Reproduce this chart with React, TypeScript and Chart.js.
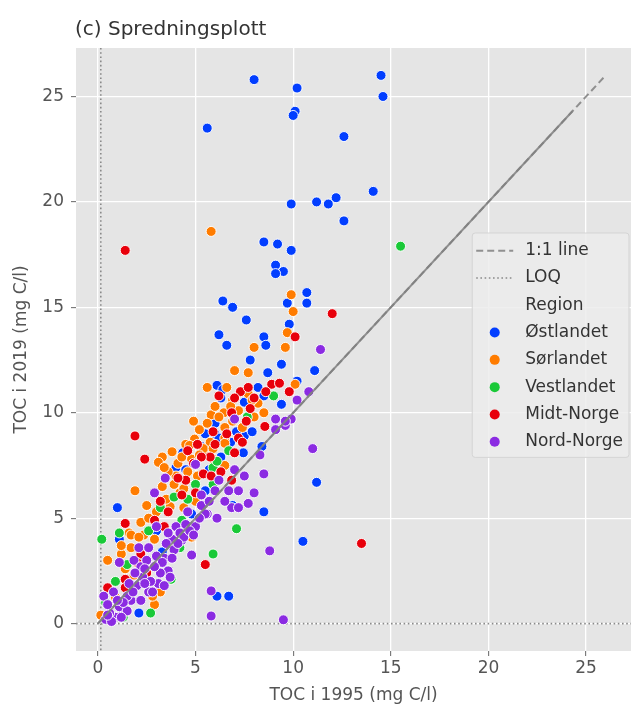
import React, { useEffect, useRef } from 'react';
import { Chart, registerables } from 'chart.js';

Chart.register(...registerables);

const FONT = "'DejaVu Sans', sans-serif";

const chartTitle = '(c) Spredningsplott';
const xAxisTitle = 'TOC i 1995 (mg C/l)';
const yAxisTitle = 'TOC i 2019 (mg C/l)';
const legendHeader = 'Region';
const lineLabel = '1:1 line';
const loqLabel = 'LOQ';

const regionNames = ['Østlandet', 'Sørlandet', 'Vestlandet', 'Midt-Norge', 'Nord-Norge'];
const regionColors = ['#023eff', '#ff7c00', '#1ac938', '#e8000b', '#8b2be2'];

const xTicks = [0, 5, 10, 15, 20, 25];
const yTicks = [0, 5, 10, 15, 20, 25];
const xRange = [-1.12, 27.3];
const yRange = [-1.3, 27.3];

const oneToOneEnds = [0, 26];
const oneToOneSolidEnd = 24.3;
const loqX = 0.15;
const loqY = 0.0;

// [TOC 1995, TOC 2019]
const ostlandet = [
  [8.0, 25.8], [10.2, 25.4], [14.5, 26.0], [14.6, 25.0], [10.1, 24.3], [10.0, 24.1], [5.6, 23.5], [12.6, 23.1],
  [14.1, 20.5], [9.9, 19.9], [11.2, 20.0], [11.8, 19.9], [12.2, 20.2], [12.6, 19.1],
  [8.5, 18.1], [9.2, 18.0], [9.9, 17.7], [9.1, 17.0], [9.5, 16.7], [9.1, 16.6],
  [10.7, 15.7], [9.7, 15.2], [10.7, 15.2], [6.4, 15.3], [6.9, 15.0], [7.6, 14.4], [9.8, 14.2],
  [6.2, 13.7], [6.6, 13.2], [8.5, 13.6], [8.6, 13.2], [9.4, 12.3], [11.1, 12.0], [8.7, 11.9], [10.2, 11.5],
  [6.1, 11.3], [6.4, 11.1], [6.3, 10.7], [7.5, 10.5], [8.5, 10.8], [9.4, 10.4],
  [6.0, 9.5], [6.0, 9.0], [6.2, 8.8], [7.5, 8.9], [6.8, 8.6], [8.4, 8.4], [4.35, 8.1], [6.3, 7.9], [7.45, 8.1], [4.0, 7.4],
  [5.5, 6.3], [11.2, 6.7], [8.5, 5.3], [6.9, 5.6], [10.5, 3.9], [6.1, 1.3], [6.7, 1.3],
  [1.0, 5.5], [1.1, 4.0], [2.1, 0.5], [3.3, 3.4], [3.0, 4.4], [4.8, 5.2], [5.3, 8.4], [7.9, 9.1],
  [5.5, 9.0], [6.9, 9.9], [4.9, 8.6], [7.1, 9.1], [5.7, 7.3], [8.2, 11.2], [7.8, 12.5], [4.5, 7.3],
];
const sorlandet = [
  [5.8, 18.6], [9.9, 15.6], [10.0, 14.8], [9.7, 13.8], [8.0, 13.1], [9.6, 13.1], [7.7, 11.9], [10.1, 11.35],
  [5.6, 11.2], [7.7, 10.9], [6.9, 10.6], [8.2, 10.45], [6.45, 10.0], [7.2, 10.1], [8.0, 9.8], [8.5, 10.0],
  [5.2, 9.2], [6.5, 9.3], [7.4, 9.3], [6.5, 8.8], [6.5, 8.55], [5.75, 8.6], [4.95, 8.75], [4.5, 8.5], [4.7, 8.45],
  [3.3, 7.9], [3.1, 7.65], [3.8, 8.15], [5.4, 8.15], [4.1, 7.6], [5.4, 8.3], [6.5, 7.5], [4.0, 7.0], [4.6, 7.2],
  [1.9, 6.3], [3.7, 5.55], [2.2, 4.8], [1.6, 4.3], [2.35, 4.2], [2.9, 4.0], [1.7, 4.2], [1.7, 3.6], [1.2, 3.3],
  [1.2, 3.7], [0.5, 3.0], [0.9, 1.25], [2.9, 0.9], [3.2, 1.5], [0.15, 0.4], [4.8, 4.1], [1.85, 2.3], [3.0, 5.3],
  [3.5, 5.9], [4.2, 6.2], [5.1, 7.0], [5.9, 7.8], [6.9, 9.6], [4.4, 5.5], [2.6, 5.0], [3.3, 6.5], [2.8, 1.3],
  [4.9, 9.6], [5.8, 9.9], [7.0, 12.0], [6.0, 10.3], [3.6, 7.2], [5.0, 5.8],
  [4.3, 7.9], [4.8, 7.8], [5.2, 8.0], [3.9, 6.6], [4.4, 6.4], [5.6, 9.5], [6.2, 9.8], [6.8, 10.3], [7.9, 10.6],
  [5.9, 8.3], [3.4, 7.4], [2.5, 5.6], [2.1, 4.1], [1.4, 2.6], [6.6, 11.2],
];
const vestlandet = [
  [15.5, 17.9], [9.0, 10.8], [7.65, 9.8], [5.9, 7.4], [5.9, 6.6], [7.1, 4.5], [5.9, 3.3], [4.2, 3.6], [3.75, 2.1],
  [0.2, 4.0], [1.1, 4.3], [2.6, 4.4], [3.2, 5.5], [5.0, 6.6], [0.4, 1.0], [2.7, 0.5], [6.1, 7.7], [1.5, 2.8],
  [4.3, 4.9], [3.9, 6.0], [1.3, 0.3], [0.9, 2.0], [4.6, 5.9], [6.7, 8.2], [2.3, 3.0],
];
const midtNorge = [
  [1.4, 17.7], [12.0, 14.7], [10.1, 13.6], [8.9, 11.35], [9.3, 11.4], [9.8, 11.0], [7.3, 11.0], [7.0, 10.7],
  [6.85, 10.0], [8.55, 9.35], [7.2, 8.8], [7.4, 8.6], [1.9, 8.9], [2.4, 7.8], [5.75, 7.9], [5.4, 7.1], [5.8, 7.0],
  [6.3, 7.2], [4.5, 6.8], [6.85, 6.8], [4.3, 6.1], [1.4, 4.75], [2.9, 4.9], [1.4, 2.1], [0.5, 1.7], [1.4, 1.7],
  [5.5, 2.8], [13.5, 3.8], [7.0, 8.1], [4.6, 8.2], [3.6, 5.3], [5.0, 6.2], [2.2, 3.3], [6.0, 8.5], [8.0, 10.7],
  [7.8, 10.2], [4.9, 7.6], [3.4, 4.6], [2.5, 2.4], [8.6, 11.0],
  [5.1, 8.5], [5.9, 9.1], [6.6, 9.0], [7.6, 9.6], [4.1, 6.9], [3.2, 5.8], [5.3, 7.9], [6.2, 10.8], [7.7, 11.2], [2.0, 2.9],
];
const nordNorge = [
  [11.4, 13.0], [10.8, 11.0], [10.2, 10.6], [7.0, 9.7], [9.1, 9.7], [9.6, 9.4], [9.9, 9.7], [9.1, 9.2], [9.6, 9.6],
  [11.0, 8.3], [8.5, 7.1], [7.0, 7.3], [5.0, 7.55], [3.45, 6.9], [2.9, 6.2], [8.0, 6.2], [7.2, 6.3], [6.7, 6.3],
  [7.7, 5.7], [6.85, 5.5], [7.2, 5.5], [6.1, 5.0], [5.6, 5.2], [5.5, 5.2], [8.8, 3.45], [4.8, 3.25], [4.3, 3.95],
  [5.8, 1.55], [5.8, 0.36], [9.5, 0.18], [2.1, 3.6], [2.6, 3.6], [1.1, 2.9], [1.85, 3.0], [2.2, 2.7], [3.4, 3.1],
  [3.6, 2.5], [3.7, 2.2], [3.2, 2.4], [3.1, 1.9], [3.4, 1.8], [0.3, 1.3], [1.2, 0.7], [1.7, 1.1], [2.2, 1.1],
  [2.6, 1.5], [2.8, 1.5], [1.5, 1.3], [1.1, 0.8], [1.5, 0.6], [0.9, 0.3], [1.2, 0.3], [2.3, 2.2], [4.0, 4.6],
  [4.5, 4.7], [4.2, 4.3], [3.8, 4.0], [3.5, 3.8], [4.6, 5.3], [5.3, 5.6], [5.0, 4.6], [3.0, 3.2], [2.7, 2.0],
  [2.0, 1.8], [1.6, 1.9], [0.6, 0.5], [0.5, 0.9], [0.8, 1.5], [1.9, 2.4], [2.5, 3.0], [3.9, 3.5], [4.4, 4.1],
  [4.7, 4.4], [5.3, 6.1], [6.2, 6.8], [5.7, 5.8], [3.0, 4.6], [2.4, 2.6], [1.3, 1.0], [0.4, 0.2], [0.7, 0.1],
  [1.8, 1.5], [2.4, 1.9], [3.3, 2.9], [3.8, 3.1], [4.1, 3.8], [4.9, 4.2], [5.2, 5.0], [3.6, 4.3], [2.9, 2.7],
  [1.0, 1.1], [0.5, 0.4], [6.0, 6.3], [6.5, 5.8], [7.5, 7.0], [8.3, 8.0],
];

const regionData = [ostlandet, sorlandet, vestlandet, midtNorge, nordNorge];

const LINE_COLOR = 'rgba(128,128,128,0.85)';
const LOQ_COLOR = '#8a8a8a';
const LEGEND_FONT = 17;
const TICK_FONT = 17;

const bgPlugin = {
  id: 'bgPlugin',
  beforeDraw(chart: any) {
    const { ctx, chartArea: a } = chart;
    ctx.save();
    ctx.fillStyle = '#e5e5e5';
    ctx.fillRect(a.left, a.top, a.right - a.left, a.bottom - a.top);
    ctx.restore();
  },
  beforeDatasetsDraw(chart: any) {
    const { ctx, chartArea: a, scales } = chart;
    const px = scales.x.getPixelForValue(loqX);
    const py = scales.y.getPixelForValue(loqY);
    ctx.save();
    ctx.beginPath();
    ctx.rect(a.left, a.top, a.right - a.left, a.bottom - a.top);
    ctx.clip();
    ctx.strokeStyle = LOQ_COLOR;
    ctx.lineWidth = 1.6;
    ctx.setLineDash([1.6, 2.6]);
    ctx.beginPath();
    ctx.moveTo(px, a.top);
    ctx.lineTo(px, a.bottom);
    ctx.moveTo(a.left, py);
    ctx.lineTo(a.right, py);
    ctx.stroke();
    ctx.restore();
  },
  afterDraw(chart: any) {
    const { ctx, chartArea: a } = chart;
    ctx.save();
    // title
    ctx.fillStyle = '#333333';
    ctx.font = `20px ${FONT}`;
    ctx.textBaseline = 'middle';
    ctx.textAlign = 'left';
    ctx.fillText(chartTitle, a.left - 1, 30);

    // legend
    ctx.font = `${LEGEND_FONT}px ${FONT}`;
    const rowH = 27.3;
    const labels = [lineLabel, loqLabel, legendHeader, ...regionNames];
    const textW = Math.max(...labels.map((t) => ctx.measureText(t).width));
    const handleW = 37;
    const padL = 4;
    const gap = 12;
    const padR = 6;
    const boxW = padL + handleW + gap + textW + padR;
    const boxH = rowH * labels.length + 6;
    const boxRight = a.right - 2;
    const boxLeft = boxRight - boxW;
    const boxTop = 233;
    ctx.fillStyle = 'rgba(236,236,236,0.85)';
    ctx.strokeStyle = 'rgba(210,210,210,0.9)';
    ctx.lineWidth = 1;
    ctx.beginPath();
    const r = 3;
    ctx.moveTo(boxLeft + r, boxTop);
    ctx.arcTo(boxLeft + boxW, boxTop, boxLeft + boxW, boxTop + boxH, r);
    ctx.arcTo(boxLeft + boxW, boxTop + boxH, boxLeft, boxTop + boxH, r);
    ctx.arcTo(boxLeft, boxTop + boxH, boxLeft, boxTop, r);
    ctx.arcTo(boxLeft, boxTop, boxLeft + boxW, boxTop, r);
    ctx.closePath();
    ctx.fill();
    ctx.stroke();

    const hx0 = boxLeft + padL;
    const hx1 = hx0 + handleW;
    const hxc = (hx0 + hx1) / 2;
    const tx = hx1 + gap;
    labels.forEach((lab, i) => {
      const cy = boxTop + 4 + rowH * i + rowH / 2;
      if (i === 0) {
        ctx.strokeStyle = LINE_COLOR;
        ctx.lineWidth = 2;
        ctx.setLineDash([7, 4]);
        ctx.beginPath();
        ctx.moveTo(hx0, cy);
        ctx.lineTo(hx1, cy);
        ctx.stroke();
      } else if (i === 1) {
        ctx.strokeStyle = LOQ_COLOR;
        ctx.lineWidth = 1.6;
        ctx.setLineDash([1.6, 2.6]);
        ctx.beginPath();
        ctx.moveTo(hx0, cy);
        ctx.lineTo(hx1, cy);
        ctx.stroke();
      } else if (i >= 3) {
        ctx.setLineDash([]);
        ctx.fillStyle = regionColors[i - 3];
        ctx.beginPath();
        ctx.arc(hxc, cy, 5, 0, Math.PI * 2);
        ctx.fill();
      }
      ctx.setLineDash([]);
      ctx.fillStyle = '#333333';
      ctx.textBaseline = 'middle';
      ctx.fillText(lab, tx, cy);
    });
    ctx.restore();
  },
};

export default function App() {
  const canvasRef = useRef<HTMLCanvasElement | null>(null);

  useEffect(() => {
    document.body.style.margin = '0';
    const canvas = canvasRef.current;
    if (!canvas) return;

    const scatterSets = regionNames.map((name, i) => ({
      type: 'scatter' as const,
      label: name,
      data: regionData[i].map(([x, y]) => ({ x, y })),
      backgroundColor: regionColors[i],
      borderColor: 'rgba(255,255,255,0.95)',
      borderWidth: 1,
      pointRadius: 5,
      pointHoverRadius: 5,
      order: regionNames.length - i + 1,
    }));

    const chart = new Chart(canvas, {
      type: 'scatter',
      data: {
        datasets: [
          {
            type: 'line' as const,
            label: lineLabel,
            data: [
              { x: oneToOneEnds[0], y: oneToOneEnds[0] },
              { x: oneToOneEnds[1], y: oneToOneEnds[1] },
            ],
            borderColor: LINE_COLOR,
            borderWidth: 2,
            borderDash: [7, 4],
            pointRadius: 0,
            fill: false,
            order: 0,
          },
          {
            type: 'line' as const,
            label: '',
            data: [
              { x: oneToOneEnds[0], y: oneToOneEnds[0] },
              { x: oneToOneSolidEnd, y: oneToOneSolidEnd },
            ],
            borderColor: LINE_COLOR,
            borderWidth: 2,
            pointRadius: 0,
            fill: false,
            order: 0,
          },
          ...scatterSets,
        ] as any,
      },
      options: {
        responsive: false,
        animation: false,
        devicePixelRatio: 1,
        layout: { padding: { top: 48, right: 1, left: 0, bottom: 0 } },
        plugins: {
          legend: { display: false },
          tooltip: { enabled: false },
          title: { display: false },
        },
        scales: {
          x: {
            type: 'linear',
            min: xRange[0],
            max: xRange[1],
            afterBuildTicks: (s: any) => {
              s.ticks = xTicks.map((v) => ({ value: v }));
            },
            afterFit: (s: any) => {
              s.height = 58;
            },
            border: { display: false },
            grid: { color: '#ffffff', lineWidth: 1.3, tickColor: '#666666', tickLength: 5, tickWidth: 1 },
            ticks: { color: '#555555', font: { family: FONT, size: TICK_FONT }, padding: 2, maxRotation: 0 },
            title: {
              display: true,
              text: xAxisTitle,
              color: '#555555',
              font: { family: FONT, size: TICK_FONT },
              padding: { top: 0, bottom: 3 },
            },
          },
          y: {
            type: 'linear',
            min: yRange[0],
            max: yRange[1],
            afterBuildTicks: (s: any) => {
              s.ticks = yTicks.map((v) => ({ value: v }));
            },
            afterFit: (s: any) => {
              s.width = 76;
            },
            border: { display: false },
            grid: { color: '#ffffff', lineWidth: 1.3, tickColor: '#666666', tickLength: 5, tickWidth: 1 },
            ticks: { color: '#555555', font: { family: FONT, size: TICK_FONT }, padding: 7 },
            title: {
              display: true,
              text: yAxisTitle,
              color: '#555555',
              font: { family: FONT, size: TICK_FONT },
              padding: { top: 11, bottom: 0 },
            },
          },
        },
      },
      plugins: [bgPlugin],
    });

    return () => chart.destroy();
  }, []);

  return (
    <div style={{ width: 637, height: 709 }}>
      <canvas ref={canvasRef} width={637} height={709} style={{ display: 'block' }} />
    </div>
  );
}
